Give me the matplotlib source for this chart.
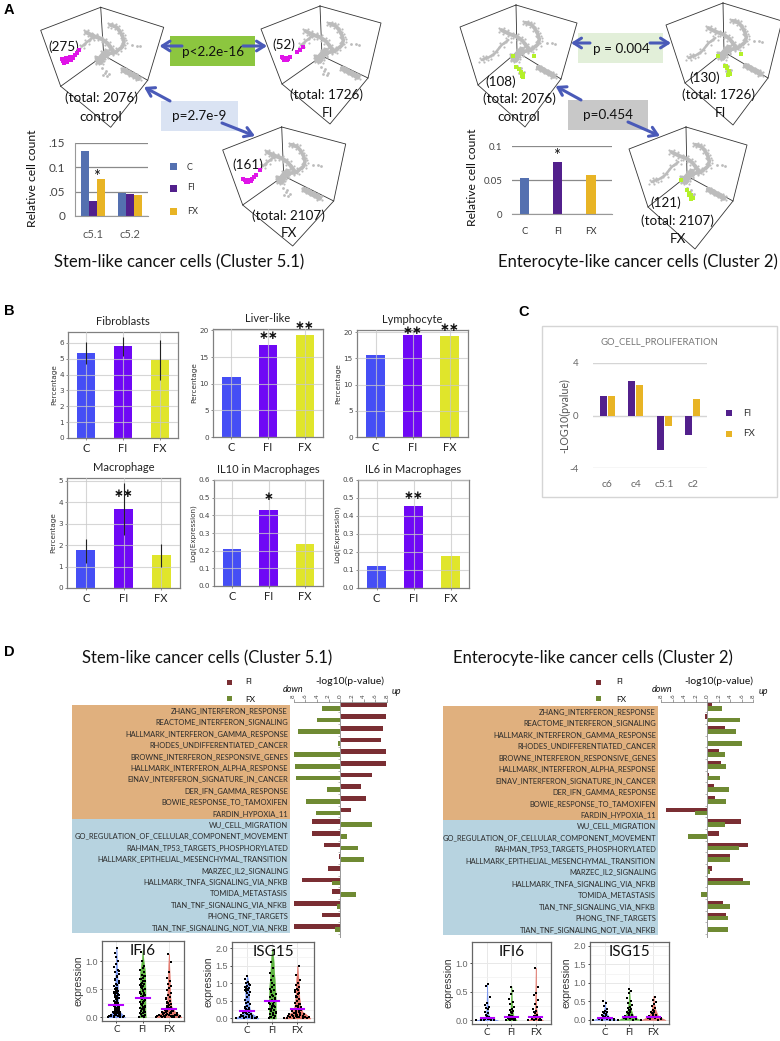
"""
Multi-panel figure: cell counts, bar charts, gene set enrichment and violins.
All panels are placed using pixel boxes of the 780x1041 figure.
"""
import matplotlib
matplotlib.use('Agg')
import matplotlib.pyplot as plt
import matplotlib.patches as patches
import numpy as np

plt.rcParams['font.family'] = ['Lato', 'DejaVu Sans']

W, H = 780, 1041

# --- panel A data ---
stem_groups = ['c5.1', 'c5.2']
stem_c = [0.133, 0.047]
stem_fi = [0.030, 0.045]
stem_fx = [0.075, 0.043]
entero_groups = ['C', 'FI', 'FX']
entero_vals = [0.053, 0.077, 0.058]

# umap cloud, offsets from the top corner of each cube (zoomed px)
ring_dx = [28, 38, 48, 58, 66, 70, 66, 53, 43, 28, 13, 3, -7]
ring_dy = [53, 56, 60, 73, 88, 103, 118, 128, 136, 138, 148, 156, 161]
band_dx = [-44, -32, -17, -2, 10, 20, 30, 38]
band_dy = [75, 81, 88, 93, 100, 108, 121, 133]
hub_dx = [-12, -4, 4, 12, 0, -8, 8, 18]
hub_dy = [152, 158, 150, 144, 166, 164, 138, 132]
tail_dx = [68, 78, 90, 103, 113]
tail_dy = [188, 193, 200, 206, 213]
sparse_dx = [93, 108, 118, 3, 16, 8, 20, 12, 25]
sparse_dy = [113, 115, 116, 183, 190, 203, 206, 196, 200]
strand_stem_dx = [-57, -42, -27, -17]
strand_stem_dy = [118, 105, 93, 86]
strand_entero_dx = [-103, -93, -83, -63, -43, -23]
strand_entero_dy = [165, 160, 158, 145, 120, 105]
# magenta clusters: control, FI, FX
mag_dx = [[-117, -110, -105, -98, -92, -85, -78, -70, -65, -100, -95, -88, -112, -104, -90, -82],
          [-113, -108, -102, -96, -90, -70, -60, -52, -110, -100],
          [-115, -108, -102, -96, -90, -84, -76, -65, -110, -100, -92]]
mag_dy = [[156, 166, 160, 158, 150, 148, 143, 138, 128, 165, 155, 153, 160, 152, 158, 152],
          [152, 162, 156, 160, 154, 138, 132, 122, 157, 162],
          [156, 165, 160, 158, 156, 150, 145, 130, 160, 164, 162]]
# green clusters: control, FI, FX
lime_dx = [[0, 8, 15, 20, 22, 18, 55, -10], [5, 12, 18, 22, 16, 8, 55, -15], [2, 10, 16, 20, 14, 8, -14]]
lime_dy = [[185, 192, 200, 207, 215, 212, 153, 152], [188, 196, 205, 212, 216, 190, 152, 160], [190, 198, 205, 212, 216, 205, 158]]

# --- panel B data ---
b_titles = ['Fibroblasts', 'Liver-like', 'Lymphocyte', 'Macrophage', 'IL10 in Macrophages', 'IL6 in Macrophages']
b_vals = [[5.35, 5.8, 4.9], [11.3, 17.3, 19.2], [15.7, 19.4, 19.2],
          [1.75, 3.68, 1.55], [0.21, 0.43, 0.24], [0.12, 0.455, 0.18]]
b_low = [[4.65, 5.2, 3.65], None, None, [1.15, 2.45, 1.0], None, None]
b_high = [[6.05, 6.4, 6.2], None, None, [2.3, 4.9, 2.05], None, None]
b_top = [6.69, 20.25, 20.4, 5.12, 0.6, 0.6]
b_ticks = [[0, 1, 2, 3, 4, 5, 6], [0, 5, 10, 15, 20], [0, 5, 10, 15, 20], [0, 1, 2, 3, 4, 5],
           [0, .1, .2, .3, .4, .5, .6], [0, .1, .2, .3, .4, .5, .6]]
b_ylabels = ['Percentage', 'Percentage', 'Percentage', 'Percentage', 'Log(Expression)', 'Log(Expression)']
b_stars = [[], [(1, '**', 19.0), (2, '**', 20.9)], [(1, '**', 20.3), (2, '**', 20.9)],
           [(1, '**', 4.42)], [(1, '*', 0.505)], [(1, '**', 0.512)]]
sample_names = ['C', 'FI', 'FX']

# --- panel C data ---
c_groups = ['c6', 'c4', 'c5.1', 'c2']
c_fi = [1.5, 2.6, -2.6, -1.5]
c_fx = [1.5, 2.3, -0.8, 1.25]

# --- panel D data ---
gene_sets = ['ZHANG_INTERFERON_RESPONSE', 'REACTOME_INTERFERON_SIGNALING', 'HALLMARK_INTERFERON_GAMMA_RESPONSE',
             'RHODES_UNDIFFERENTIATED_CANCER', 'BROWNE_INTERFERON_RESPONSIVE_GENES',
             'HALLMARK_INTERFERON_ALPHA_RESPONSE', 'EINAV_INTERFERON_SIGNATURE_IN_CANCER', 'DER_IFN_GAMMA_RESPONSE',
             'BOWIE_RESPONSE_TO_TAMOXIFEN', 'FARDIN_HYPOXIA_11', 'WU_CELL_MIGRATION',
             'GO_REGULATION_OF_CELLULAR_COMPONENT_MOVEMENT', 'RAHMAN_TP53_TARGETS_PHOSPHORYLATED',
             'HALLMARK_EPITHELIAL_MESENCHYMAL_TRANSITION', 'MARZEC_IL2_SIGNALING',
             'HALLMARK_TNFA_SIGNALING_VIA_NFKB', 'TOMIDA_METASTASIS', 'TIAN_TNF_SIGNALING_VIA_NFKB',
             'PHONG_TNF_TARGETS', 'TIAN_TNF_SIGNALING_NOT_VIA_NFKB']
stem_gs_fi = [8, 7.9, 7.3, 6.9, 7.9, 7.8, 5.4, 3.5, 4.45, 1.8, -4.9, -4.8, -2.85, -0.2, -2.2, -6.5, -1.4, -8, -3.2, -8]
stem_gs_fx = [-3.1, -4.05, -7.3, -0.35, -8, -7.8, -7.55, -2.35, -5.95, -4.2, 5.4, 1.15, 3, 4, 0, -1.5, 2.7, -0.6, 0, -0.9]
ent_gs_fi = [0.9, -0.4, 3.1, 0, 2.1, 2.4, 0.3, 1.15, 1.3, -7.1, 5.85, 2.1, 7.1, 3.95, 0.8, 6.2, -0.1, 2.7, 3.3, 0.05]
ent_gs_fx = [2.6, 5.6, 5, 6, 3, 3.25, 2.2, 3.7, 3.25, -2.1, 3.1, -3.3, 5.45, 4, 0.5, 7.5, -1.15, 3.9, 3.55, 3.6]

# violin outlines: expression level and half width
vio_levels = [
    [[0, .05, .12, .25, .4, .6, .9, 1.25], [.33, .24, .1, .07, .07, .05, .03, .005]],
    [[0, .1, .3, .5, .8, 1.0, 1.2], [.12, .11, .11, .11, .1, .04, .005]],
    [[0, .04, .1, .2, .3, .5, .8, 1.13], [.48, .42, .24, .1, .07, .05, .03, .005]],
    [[0, .05, .15, .3, .5, .9, 1.22], [.45, .38, .18, .1, .08, .08, .005]],
    [[0, .2, .5, .9, 1.3, 1.7, 2.0], [.14, .14, .14, .12, .08, .05, .005]],
    [[0, .08, .2, .35, .6, 1.0, 1.5], [.52, .42, .2, .12, .08, .06, .005]],
    [[0, .03, .08, .2, .4, .65], [.45, .2, .07, .03, .02, .005]],
    [[0, .03, .08, .2, .4, .6], [.22, .16, .09, .04, .02, .005]],
    [[0, .03, .08, .2, .5, .92], [.3, .2, .08, .03, .015, .005]],
    [[0, .04, .1, .2, .35, .52], [.5, .32, .14, .06, .02, .005]],
    [[0, .05, .12, .3, .5, .8], [.45, .3, .16, .06, .03, .005]],
    [[0, .05, .12, .3, .45, .65], [.5, .34, .18, .07, .03, .005]],
]
vio_points = [
    [.0, .0, .01, .01, .02, .02, .03, .03, .04, .05, .05, .06, .07, .08, .08, .1, .11, .12, .13, .14, .15, .17, .18, .2,
     .21, .22, .24, .25, .27, .28, .3, .31, .33, .35, .36, .38, .4, .41, .42, .44, .45, .47, .48, .5, .52, .55, .58, .6,
     .64, .68, .72, .78, .8, .85, .9, .95, 1.0, 1.08, 1.15, 1.24, .02, .04, .06, .09, .12, .16, .19, .23, .26, .29, .32,
     .34, .37, .39, .43, .46, .49, .53, .62, .66, .74, .82],
    [.0, .01, .02, .04, .06, .08, .1, .12, .14, .16, .18, .2, .22, .24, .26, .28, .3, .32, .34, .36, .38, .4, .42, .44,
     .46, .48, .5, .52, .54, .56, .58, .6, .62, .65, .68, .7, .73, .76, .8, .84, .88, .92, 1.0, 1.17, .03, .07, .11, .15,
     .19, .23, .27, .31, .35, .39, .43, .47, .51, .55, .59, .64, .69, .74],
    [.0, .0, .01, .01, .02, .02, .03, .03, .04, .04, .05, .05, .06, .07, .08, .09, .1, .11, .12, .13, .14, .15, .17, .18,
     .2, .22, .24, .26, .28, .3, .33, .36, .4, .44, .48, .52, .56, .6, .65, .7, .8, .98, 1.13, .0, .01, .02, .03, .04, .05,
     .06, .07, .08, .1, .12, .14, .16, .19, .21, .25, .29, .35],
    [.0, .0, .01, .02, .03, .04, .05, .06, .08, .1, .12, .14, .16, .18, .2, .22, .25, .28, .3, .33, .36, .4, .44, .48,
     .52, .6, .68, .74, .78, .8, .82, .84, .86, .88, .9, .92, .95, 1.0, 1.05, 1.12, 1.2, .02, .04, .07, .11, .15, .19, .24,
     .27, .31, .35, .75, .81, .85, .89, .93, .97],
    [.0, .02, .05, .08, .12, .15, .18, .22, .25, .28, .3, .33, .36, .4, .42, .45, .48, .5, .55, .6, .65, .7, .75, .8, .85,
     .9, .95, 1.0, 1.1, 1.2, 1.3, 1.45, 1.6, 1.95, .03, .1, .17, .27, .35, .44, .52, .58, .68, .78],
    [.0, .0, .01, .02, .03, .04, .05, .06, .07, .08, .1, .12, .14, .16, .18, .2, .22, .24, .26, .28, .3, .33, .36, .4, .44,
     .5, .55, .6, .65, .7, .75, .8, .85, .9, .95, 1.0, 1.1, 1.25, 1.5, .01, .03, .05, .07, .09, .11, .13, .15, .19, .23,
     .27, .35, .42, .62, .72, .82],
    [.0, .0, .0, .01, .01, .02, .02, .03, .03, .04, .05, .06, .08, .1, .12, .15, .2, .22, .24, .26, .3, .4, .6, .64],
    [.0, .0, .01, .01, .02, .02, .03, .03, .04, .04, .05, .05, .06, .07, .08, .1, .12, .14, .16, .18, .2, .24, .28, .32,
     .38, .46, .52, .58],
    [.0, .0, .01, .01, .02, .03, .04, .05, .06, .07, .08, .1, .12, .14, .16, .2, .24, .28, .35, .45, .48, .58, .92],
    [.0, .0, .01, .01, .02, .02, .03, .04, .05, .06, .07, .08, .09, .1, .12, .14, .16, .18, .2, .22, .25, .3, .38, .45, .52],
    [.0, .01, .02, .03, .04, .05, .06, .07, .08, .1, .12, .14, .16, .18, .2, .22, .25, .28, .3, .33, .36, .4, .45, .52, .6,
     .72, .78, .82],
    [.0, .01, .02, .03, .04, .05, .06, .07, .08, .1, .12, .14, .16, .18, .2, .22, .25, .28, .32, .38, .42, .48, .55, .62],
]
vio_means = [.22, .34, .155, .22, .5, .26, .04, .06, .06, .06, .09, .09]
jitter = [-1, .4, -.3, .8, -.65, .15, 1, -.4, .55, -.85, 0, .7, -.15, -.55, .3]

# --- colours ---
A_COLS = ['#5470b0', '#52208c', '#e8b425']
B_COLS = ['#3f48f5', '#6a00f5', '#dfe524']
D_FI, D_FX = '#7a2e33', '#6f8a33'
VIO_COLS = ['#6f8ff0', '#4fae2e', '#e0675a']
ORANGE, BLUE = '#e0b07e', '#b7d3e0'
ARROW = '#4a5ab8'

fig = plt.figure(figsize=(W / 100, H / 100), dpi=100)

def add_ax(x0, y0, x1, y1):
    return fig.add_axes([x0 / W, 1 - y1 / H, (x1 - x0) / W, (y1 - y0) / H])

over = fig.add_axes([0, 0, 1, 1], zorder=5)
over.set_xlim(0, W)
over.set_ylim(H, 0)
over.axis('off')
over.patch.set_alpha(0)

def label(x, y, s, size=10, **kw):
    kw.setdefault('ha', 'center')
    kw.setdefault('va', 'center')
    kw.setdefault('color', '#111111')
    over.text(x, y, s, fontsize=size, **kw)

def arrow(x0, y0, x1, y1):
    over.annotate('', xy=(x1, y1), xytext=(x0, y0),
                  arrowprops=dict(arrowstyle='->,head_length=0.55,head_width=0.35', color=ARROW, lw=2.2,
                                  shrinkA=0, shrinkB=0), zorder=8)

def cube(tx, ty, corners, kind, idx):
    rt, rb, bot, lb, lt, cen = corners
    pts = [(tx, ty), rt, rb, bot, lb, lt]
    xs = [tx + p[0] for p in pts[1:]]
    ys = [ty + p[1] for p in pts[1:]]
    over.plot([tx] + xs + [tx], [ty] + ys + [ty], color='#333333', lw=0.6, zorder=2)
    cx, cy = tx + cen[0], ty + cen[1]
    over.plot([tx, cx], [ty, cy], color='#333333', lw=0.6, zorder=2)
    over.plot([tx + lb[0], cx, tx + rb[0]], [ty + lb[1], cy, ty + rb[1]], color='#333333', lw=0.6, zorder=2)
    gray = '#bcbcbc'
    strand_x = strand_stem_dx if kind == 'stem' else strand_entero_dx
    strand_y = strand_stem_dy if kind == 'stem' else strand_entero_dy
    for dx, dy, lw in [(ring_dx, ring_dy, 2.6), (band_dx, band_dy, 2.8), (hub_dx, hub_dy, 3.2), (tail_dx, tail_dy, 4.0), (strand_x, strand_y, 1.8)]:
        px, py = tx + np.array(dx) / 3, ty + np.array(dy) / 3
        over.plot(px, py, color=gray, lw=lw, zorder=3, solid_capstyle='round')
        # fuzzy edge round the strokes
        for ox, oy in [(-2.2, 1.8), (2.2, -1.8), (2.5, 1.5), (-2, -2)]:
            over.scatter(px + ox, py + oy, s=2.5, color=gray, marker='o', linewidths=0, zorder=3)
    over.scatter(tx + np.array(sparse_dx) / 3, ty + np.array(sparse_dy) / 3, s=4, color=gray, marker='o', linewidths=0, zorder=3)
    if kind == 'stem':
        over.scatter(tx + np.array(mag_dx[idx]) / 3, ty + np.array(mag_dy[idx]) / 3, s=7, color='#e014e8', marker='s', linewidths=0, zorder=4)
    else:
        over.scatter(tx + np.array(lime_dx[idx]) / 3, ty + np.array(lime_dy[idx]) / 3, s=8, color='#b4f02a', marker='s', linewidths=0, zorder=4)

# --- A: cubes ---
box = [(63, 20), (47, 73), (10, 120), (-40, 79), (-60, 23), (3, 48)]
cube(100.7, 7.3, box, 'stem', 0)
cube(320, 6, [(61, 17), (48, 72), (10, 118), (-38, 78), (-59, 23), (2, 50)], 'stem', 1)
cube(281.7, 127, [(64, 17), (52, 74), (11, 119), (-39, 78), (-59, 23), (2, 49)], 'stem', 2)
cube(516, 5, [(61, 18), (45, 74), (9, 122), (-38, 80), (-56, 22), (1, 47)], 'entero', 0)
cube(723, 3, [(59, 18), (45, 75), (10, 122), (-38, 80), (-57, 22), (1, 49)], 'entero', 1)
cube(686, 127, [(61, 18), (47, 74), (9, 122), (-38, 80), (-57, 22), (1, 49)], 'entero', 2)

over.add_patch(patches.Rectangle((170, 36), 85, 30, color='#8cc63f', lw=0, zorder=1))
over.add_patch(patches.Rectangle((160.7, 101), 77, 30, color='#dae3f3', lw=0, zorder=1))
over.add_patch(patches.Rectangle((578, 33), 85, 30, color='#e2efd9', lw=0, zorder=1))
over.add_patch(patches.Rectangle((568, 100), 80, 29.5, color='#c8c8c8', lw=0, zorder=1))
arrow(182, 46, 159.5, 46)
arrow(243, 46, 267, 46)
arrow(170, 101, 144, 87)
arrow(222, 123, 255, 136)
arrow(590, 43, 571, 43)
arrow(650, 43, 671, 43)
arrow(581, 100, 555.5, 86)
arrow(628, 122, 660, 136)

for x, y, s in [(64, 47, '(275)'), (101, 98, '(total: 2076)'), (101, 117, 'control'), (284, 45, '(52)'),
                (327, 95, '(total: 1726)'), (327, 113, 'FI'), (248, 165, '(161)'), (288, 216, '(total: 2107)'),
                (289, 233, 'FX'), (213, 52, 'p<2.2e-16'), (199, 116, 'p=2.7e-9'), (501, 82, '(108)'),
                (519, 99, '(total: 2076)'), (519, 117, 'control'), (705, 78, '(130)'), (719, 95, '(total: 1726)'),
                (720, 113, 'FI'), (666, 203, '(121)'), (677, 221, '(total: 2107)'), (678, 239, 'FX'),
                (621, 49, 'p = 0.004'), (608, 115, 'p=0.454')]:
    label(x, y, s, size=9.7)
label(179.5, 262, 'Stem-like cancer cells (Cluster 5.1)', size=12)
label(637.5, 262, 'Enterocyte-like cancer cells (Cluster 2)', size=12)

for x, y, s in [(9, 10, 'A'), (9, 311, 'B'), (524, 312, 'C'), (9, 652, 'D')]:
    over.text(x, y, s, fontsize=10.5, fontweight='bold', family='Liberation Sans', ha='center', va='center')

def excel_axes(ax):
    for s in ['top', 'right', 'left']:
        ax.spines[s].set_visible(False)
    ax.spines['bottom'].set_color('#999999')
    ax.spines['bottom'].set_linewidth(0.8)
    ax.yaxis.grid(True, color='#8a8a8a', lw=0.9)
    ax.set_axisbelow(True)
    ax.tick_params(left=False, bottom=False)

ax = add_ax(75, 143, 148, 216)
pos = np.arange(2)
for off, vals, col in zip([-0.222, 0, 0.222], [stem_c, stem_fi, stem_fx], A_COLS):
    ax.bar(pos + off, vals, 0.222, color=col)
ax.set_xlim(-0.5, 1.5)
ax.set_ylim(0, 0.15)
ax.set_yticks([0, .05, .1, .15], ['0', '.05', '0.1', '.15'], fontsize=8.5, color='#444444')
ax.set_xticks(pos, stem_groups, fontsize=8, color='#555555')
ax.tick_params(axis='x', pad=6)
excel_axes(ax)
ax.spines['left'].set_visible(True)
ax.spines['left'].set_color('#999999')
label(96.5, 177, '*', size=12)
over.text(32, 178, 'Relative cell count', rotation=90, fontsize=8.7, ha='center', va='center', color='#111111')
for y, s, col in zip([166, 188, 211], sample_names, A_COLS):
    over.add_patch(patches.Rectangle((170, y - 3.5), 7, 7, color=col, lw=0))
    label(187, y + 2 if s == 'C' else y, s, size=6.5, ha='left', color='#333333')

ax = add_ax(512, 146, 612, 214)
ax.bar(range(3), entero_vals, 0.28, color=A_COLS)
ax.set_xlim(-0.38, 2.63)
ax.set_ylim(0, 0.1)
ax.set_yticks([0, .05, .1], ['0', '0.05', '0.1'], fontsize=7, color='#444444')
ax.set_xticks(range(3), entero_groups, fontsize=6.8, color='#333333')
ax.tick_params(axis='x', pad=6)
excel_axes(ax)
label(557, 156, '*', size=12)
over.text(473, 177, 'Relative cell count', rotation=90, fontsize=8.7, ha='center', va='center', color='#111111')

# --- B ---
b_boxes = [(68, 332, 178, 438), (213, 329, 323, 437), (357, 330, 468, 437),
           (67, 478, 180, 588), (214, 480, 323, 586), (358, 480, 469, 588)]
for i, bb in enumerate(b_boxes):
    ax = add_ax(*bb)
    ax.bar(range(3), b_vals[i], 0.5, color=B_COLS, alpha=0.97)
    ax.set_xlim(-0.5, 2.5)
    ax.set_ylim(0, b_top[i])
    ax.grid(True, color='#c9c9c9', lw=0.8, alpha=0.75)
    ax.set_axisbelow(False)
    if b_low[i] is not None:
        ax.vlines(range(3), b_low[i], b_high[i], color='#222222', lw=0.8, zorder=5)
    ax.set_xticks(range(3), sample_names, fontsize=8, color='#222222')
    fmt = '%.1f' if b_top[i] < 1 else '%d'
    ax.set_yticks(b_ticks[i], [fmt % t for t in b_ticks[i]], fontsize=5.2, color='#444444', family='DejaVu Sans')
    ax.tick_params(axis='both', length=1.5, width=0.5, pad=1.5, color='#666666')
    ax.tick_params(axis='x', pad=2)
    ax.set_ylabel(b_ylabels[i], fontsize=5.2, labelpad=1.5, color='#333333', family='DejaVu Sans')
    ax.set_title(b_titles[i], fontsize=8, pad=5, color='#222222')
    for s in ax.spines.values():
        s.set_color('#808080')
        s.set_linewidth(0.9)
    for xp, star, yp in b_stars[i]:
        ax.text(xp, yp, star.replace('*', '\u2217'), ha='center', va='center', fontsize=8.5, fontweight='bold', color='#111111', family='DejaVu Sans', clip_on=False, zorder=20)

# --- C ---
over.add_patch(patches.Rectangle((542, 326), 235, 171, fill=False, edgecolor='#d5d5d5', lw=1))
ax = add_ax(593, 363, 707, 468)
pos = np.arange(4)
ax.bar(pos - 0.145, c_fi, 0.24, color=A_COLS[1])
ax.bar(pos + 0.145, c_fx, 0.24, color=A_COLS[2])
ax.set_xlim(-0.5, 3.5)
ax.set_ylim(-4, 4)
ax.set_yticks([-4, 0, 4], ['-4', '0', '4'], fontsize=7, color='#666666')
ax.set_xticks(pos, c_groups, fontsize=7.5, color='#666666')
ax.tick_params(left=False, bottom=False, pad=5)
ax.tick_params(axis='y', pad=7)
ax.yaxis.grid(True, color='#d5d5d5', lw=1)
ax.set_axisbelow(True)
for s in ax.spines.values():
    s.set_visible(False)
ax.patch.set_alpha(0)
over.text(565, 416, '-LOG10(pvalue)', rotation=90, fontsize=7.7, ha='center', va='center', color='#555555')
label(659, 342, 'GO_CELL_PROLIFERATION', size=6.8, color='#777777')
for y, s, col in zip([413, 434], ['FI', 'FX'], A_COLS[1:]):
    over.add_patch(patches.Rectangle((726, y - 3), 6, 6, color=col, lw=0))
    label(743, y, s, size=7, ha='left', color='#333333')

# --- D ---
def enrichment(x_neg, x_pos, text_x, rect_x0, y_top, y_mid, y_bot, vals_fi, vals_fx):
    over.add_patch(patches.Rectangle((rect_x0, y_top), text_x + 2 - rect_x0, y_mid - y_top, color=ORANGE, lw=0))
    over.add_patch(patches.Rectangle((rect_x0, y_mid), text_x + 2 - rect_x0, y_bot - y_mid, color=BLUE, lw=0))
    for i, name in enumerate(gene_sets):
        yy = y_top + (y_bot - y_top) * (i + 0.5) / 20
        label(text_x, yy, name, size=5.4, ha='right', color='#2b2b2b')
    ax = add_ax(x_neg, 702, x_pos, 937)
    rows = np.arange(20)
    ax.barh(rows - 0.13, vals_fi, 0.4, color=D_FI)
    ax.barh(rows + 0.13, vals_fx, 0.4, color=D_FX)
    ax.set_xlim(-8, 8)
    ax.set_ylim(19.75, -0.4)
    ax.xaxis.tick_top()
    ticks = [-8, -6, -4, -2, 0, 2, 4, 6, 8]
    ax.set_xticks(ticks, [str(abs(t)) for t in ticks], fontsize=4.5, rotation=90, color='#444444')
    ax.tick_params(axis='x', length=2, width=0.5, pad=1, color='#777777')
    ax.set_yticks(rows + 0.5)
    ax.set_yticklabels([])
    ax.tick_params(axis='y', length=1.5, width=0.5, color='#999999', direction='out')
    ax.patch.set_alpha(0)
    for s in ['right', 'bottom']:
        ax.spines[s].set_visible(False)
    ax.spines['top'].set_color('#777777')
    ax.spines['top'].set_linewidth(0.5)
    ax.spines['left'].set_position(('data', 0))
    ax.spines['left'].set_color('#999999')
    ax.spines['left'].set_linewidth(0.7)

enrichment(293.7, 387, 288, 72, 705, 819, 933, stem_gs_fi, stem_gs_fx)
enrichment(661.3, 753.3, 656, 442.7, 706, 820, 935, ent_gs_fi, ent_gs_fx)
label(207, 658, 'Stem-like cancer cells (Cluster 5.1)', size=12)
label(593, 658, 'Enterocyte-like cancer cells (Cluster 2)', size=12)
for sq_x, txt_x, lab_x, dn_x, up_x in [(229, 245, 350, 293, 396), (598, 616, 719, 662, 763)]:
    over.add_patch(patches.Rectangle((sq_x - 2.5, 680), 5, 4.5, color=D_FI, lw=0))
    over.add_patch(patches.Rectangle((sq_x - 2.5, 696), 5, 4.5, color=D_FX, lw=0))
    label(txt_x, 681, 'FI', size=6, ha='left')
    label(txt_x, 699, 'FX', size=6, ha='left')
    label(lab_x, 681, '-log10(p-value)', size=7.5)
    label(dn_x, 690, 'down', size=6.5, style='italic')
    label(up_x, 691, 'up', size=6.5, style='italic')

# violins
vio_panels = [
    ('IFI6', (102, 941, 184, 1021), (-.55, 2.58), (-.065, 1.36), [0, .5, 1], 0),
    ('ISG15', (232, 942, 314, 1022), (-.6, 2.66), (-.1, 2.18), [0, .5, 1, 1.5, 2], 3),
    ('IFI6', (472, 942, 551, 1024), (-.62, 2.63), (-.065, 1.37), [0, .5, 1], 6),
    ('ISG15', (590, 942, 669, 1024), (-.62, 2.64), (-.11, 2.1), [0, .5, 1, 1.5, 2], 9),
]
for name, bb, xl, yl, yt, start in vio_panels:
    ax = add_ax(*bb)
    for j in range(3):
        lev, wid = vio_levels[start + j]
        lev, wid = np.array(lev), np.array(wid)
        ax.fill_betweenx(lev, j - wid, j + wid, color=VIO_COLS[j], lw=0.3, alpha=0.9, zorder=2)
        ys = np.array(vio_points[start + j])
        # points spread with the violin width, never wider than the body
        spread = np.maximum(np.interp(ys, lev, wid), 0.1)
        xs = j + np.array([jitter[k % len(jitter)] for k in range(len(ys))]) * spread
        ax.scatter(xs, ys, s=1.9, color='black', marker='s', linewidths=0, zorder=3)
        ax.plot([j - 0.27, j + 0.27], [vio_means[start + j]] * 2, color='#b400ff', lw=1.5, zorder=4)
    ax.set_xlim(*xl)
    ax.set_ylim(*yl)
    ax.set_xticks(range(3), sample_names, fontsize=7, color='#222222')
    ax.set_yticks(yt, ['%.1f' % t for t in yt], fontsize=6.5, color='#666666', family='Liberation Sans')
    ax.set_yticks(np.array(yt[:-1]) + 0.25, minor=True)
    ax.tick_params(axis='both', length=1.5, width=0.5, pad=1.5)
    ax.tick_params(which='minor', length=0)
    ax.grid(True, color='#e8e8e8', lw=0.7)
    ax.grid(True, which='minor', axis='y', color='#f2f2f2', lw=0.5)
    ax.set_axisbelow(True)
    ax.set_ylabel('expression', fontsize=7.5, labelpad=1.5, color='#333333', family='Liberation Sans')
    for s in ax.spines.values():
        s.set_color('#666666')
        s.set_linewidth(0.9)
    ax.text(0.5, 0.88, name, transform=ax.transAxes, ha='center', va='center', fontsize=11, color='#111111', zorder=6)

fig.savefig('out.png', dpi=100)
